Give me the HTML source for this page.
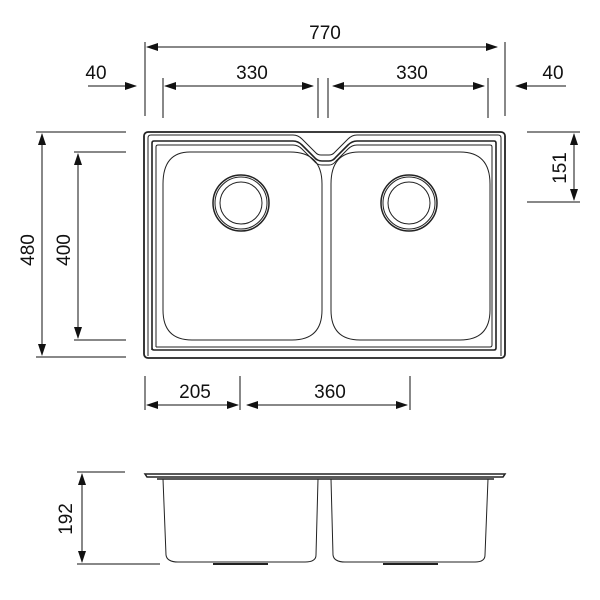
<!DOCTYPE html>
<html><head><style>body{margin:0;background:#fff}svg{display:block}text{font-family:"Liberation Sans Narrow","Liberation Sans",sans-serif;font-size:19px;fill:#111}</style></head><body>
<svg width="600" height="600" viewBox="0 0 600 600" xmlns="http://www.w3.org/2000/svg">
<defs><marker id="a" markerWidth="12" markerHeight="8" refX="11" refY="4" orient="auto-start-reverse" markerUnits="userSpaceOnUse"><path d="M0,0L12,4L0,8z" fill="#111"/></marker></defs>
<g stroke="#111" stroke-width="1" fill="none">
<!-- extension lines -->
<path d="M145,42V116M505,42V116M163,78V118M318,78V118M328,78V118M488,78V118"/>
<path d="M36,132H126M36,357H126M74,152H126M74,340H126M527,132H580M527,202H580"/>
<path d="M145,376V410M240,376V410M410,376V410"/>
<path d="M77,472H125M77,564H160"/>
<!-- dims -->
<path d="M147,47H497" marker-start="url(#a)" marker-end="url(#a)"/>
<path d="M165,86H313" marker-start="url(#a)" marker-end="url(#a)"/>
<path d="M333,86H484" marker-start="url(#a)" marker-end="url(#a)"/>
<path d="M88,86H136" marker-end="url(#a)"/>
<path d="M566,86H516" marker-end="url(#a)"/>
<path d="M42,134V355" marker-start="url(#a)" marker-end="url(#a)"/>
<path d="M78,154V338" marker-start="url(#a)" marker-end="url(#a)"/>
<path d="M574,134V200" marker-start="url(#a)" marker-end="url(#a)"/>
<path d="M147,405H238" marker-start="url(#a)" marker-end="url(#a)"/>
<path d="M247,405H407" marker-start="url(#a)" marker-end="url(#a)"/>
<path d="M82,474V562" marker-start="url(#a)" marker-end="url(#a)"/>
</g>
<g stroke="#222" fill="none">
<rect x="144" y="132" width="361" height="226" rx="4" stroke-width="1.8"/>
<path d="M148,356V138Q148,135 151,135H293Q298,135 302,139L316,153Q318,155 321,155H329Q332,155 334,153L348,139Q352,135 357,135H498Q501,135 501,138V356"/>
<path d="M152,350V143Q152,141 154,141H293Q298,141 302,145L314,157Q317,161 322,161H329Q333,161 336,157L348,145Q352,141 357,141H494Q496,141 496,143V348Q496,350 494,350H154Q152,350 152,348" stroke-width="1.6"/>
<path d="M156,347V147Q156,145 158,145H293Q298,145 302,149L314,161Q317,165 322,165H329Q333,165 336,161L348,149Q352,145 357,145H490Q492,145 492,147V345Q492,347 490,347H156"/>
<path d="M190,152H290Q322,152 322,184V310Q322,340 292,340H192Q163,340 163,310V184Q163,152 190,152Z"/>
<path d="M359,152H460Q490,152 490,184V310Q490,340 460,340H360Q331,340 331,310V184Q331,152 359,152Z"/>
<circle cx="241" cy="203" r="28" stroke-width="1.5"/><circle cx="241" cy="203" r="26"/><circle cx="241" cy="203" r="21"/>
<circle cx="409" cy="203" r="28" stroke-width="1.5"/><circle cx="409" cy="203" r="26"/><circle cx="409" cy="203" r="21"/>
<!-- side -->
<path d="M145,474H505L503,477H147Z" stroke-width="1.5"/>
<path d="M157,479H494" stroke-width="1.5"/>
<path d="M163,479L166,555Q167,562 178,562H305Q316,562 316,555L318,479"/>
<path d="M331,479L333,555Q334,562 345,562H475Q485,562 485,555L488,479"/>
<path d="M213,564H268M383,564H438" stroke-width="2"/>
</g>
<text x="325" y="39" text-anchor="middle">770</text>
<text x="252" y="79" text-anchor="middle">330</text>
<text x="412" y="79" text-anchor="middle">330</text>
<text x="96" y="79" text-anchor="middle">40</text>
<text x="553" y="79" text-anchor="middle">40</text>
<text x="195" y="398" text-anchor="middle">205</text>
<text x="330" y="398" text-anchor="middle">360</text>
<text transform="translate(34,250) rotate(-90)" text-anchor="middle">480</text>
<text transform="translate(70,250) rotate(-90)" text-anchor="middle">400</text>
<text transform="translate(566,168) rotate(-90)" text-anchor="middle">151</text>
<text transform="translate(72,519) rotate(-90)" text-anchor="middle">192</text>
</svg></body></html>
